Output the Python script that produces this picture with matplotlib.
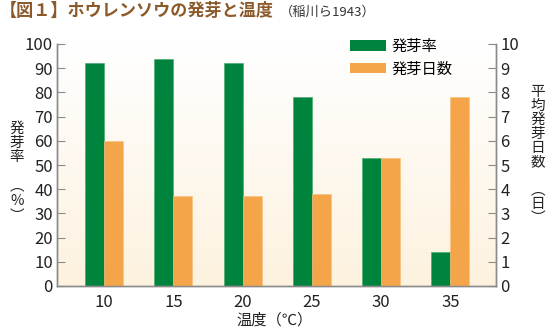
import numpy as np
import matplotlib
matplotlib.use("Agg")
import matplotlib.pyplot as plt
from matplotlib.patches import Patch

plt.rcParams['font.family'] = ['Noto Sans CJK JP', 'DejaVu Sans']

# 温度ごとの発芽率と平均発芽日数
temps = ["10", "15", "20", "25", "30", "35"]
rate = [92, 94, 92, 78, 53, 14]          # 発芽率 (%)
days = [6.0, 3.7, 3.7, 3.8, 5.3, 7.8]    # 平均発芽日数 (日)

green = "#00843d"
orange = "#f4a54a"
brown = "#8c5a2a"
spine_c = "#8a8a8a"

fig = plt.figure(figsize=(5.52, 3.30), dpi=100)
ax = fig.add_axes([57/552, 44/330, 439/552, 242/330])
ax2 = ax.twinx()

# 背景のグラデーション（上: 白 → 下: クリーム）
top = np.array([1.0, 1.0, 1.0])
bot = np.array([0xfd, 0xf2, 0xdf]) / 255
t = np.linspace(0, 1, 256)[:, None]
grad = (top * (1 - t) + bot * t)[:, None, :]
ax.imshow(grad, extent=[0, 1, 0, 1], transform=ax.transAxes,
          aspect='auto', zorder=0, interpolation='bilinear')

x = np.arange(len(temps))
w = 0.275
ax.bar(x - w/2, rate, w, color=green, edgecolor="#3fa86a", linewidth=0.4, zorder=2)
ax2.bar(x + w/2, days, w, color=orange, edgecolor="#f8c07a", linewidth=0.4, zorder=2)

ax.set_xlim(-0.68, 5.66)
ax.set_ylim(0, 100)
ax2.set_ylim(0, 10)
ax.set_yticks(range(0, 101, 10))
ax2.set_yticks(range(0, 11))
ax.set_xticks(x)
ax.set_xticklabels(temps)

for a in (ax, ax2):
    a.spines['top'].set_visible(False)
    for s in ('left', 'right', 'bottom'):
        a.spines[s].set_color(spine_c)
        a.spines[s].set_linewidth(1.0)
    a.tick_params(axis='y', direction='in', length=6, color=spine_c,
                  labelsize=12, labelcolor="#222222", pad=3)
ax.tick_params(axis='x', length=0, labelsize=12, labelcolor="#222222", pad=6)

# 軸ラベル（縦書き）
fig.text(17/552, 1 - 172/330, "発\n芽\n率\n\n︵\n%\n︶", ha='center', va='center',
         fontsize=10.5, color="#222222", linespacing=1.05)
fig.text(538/552, 1 - 155/330, "平\n均\n発\n芽\n日\n数\n\n︵\n日\n︶", ha='center',
         va='center', fontsize=10.5, color="#222222", linespacing=1.0)
fig.text(275/552, 1 - 320/330, "温度（℃）", ha='center', va='center',
         fontsize=11, color="#222222")

# タイトル
fig.text(0, 1 - 11/330, "【図１】ホウレンソウの発芽と温度", ha='left', va='center',
         fontsize=12.3, fontweight='bold', color=brown)
fig.text(280/552, 1 - 12/330, "（稲川ら1943）", ha='left', va='center',
         fontsize=9.5, color="#333333")

handles = [Patch(facecolor=green, label="発芽率"), Patch(facecolor=orange, label="発芽日数")]
fig.legend(handles=handles, loc='upper left', bbox_to_anchor=(350/552, 1 - 38/330),
           frameon=False, fontsize=11, handlelength=2.35, handleheight=0.72,
           handletextpad=0.35, labelspacing=0.35, borderpad=0, borderaxespad=0)

fig.savefig("out.png", dpi=100)
